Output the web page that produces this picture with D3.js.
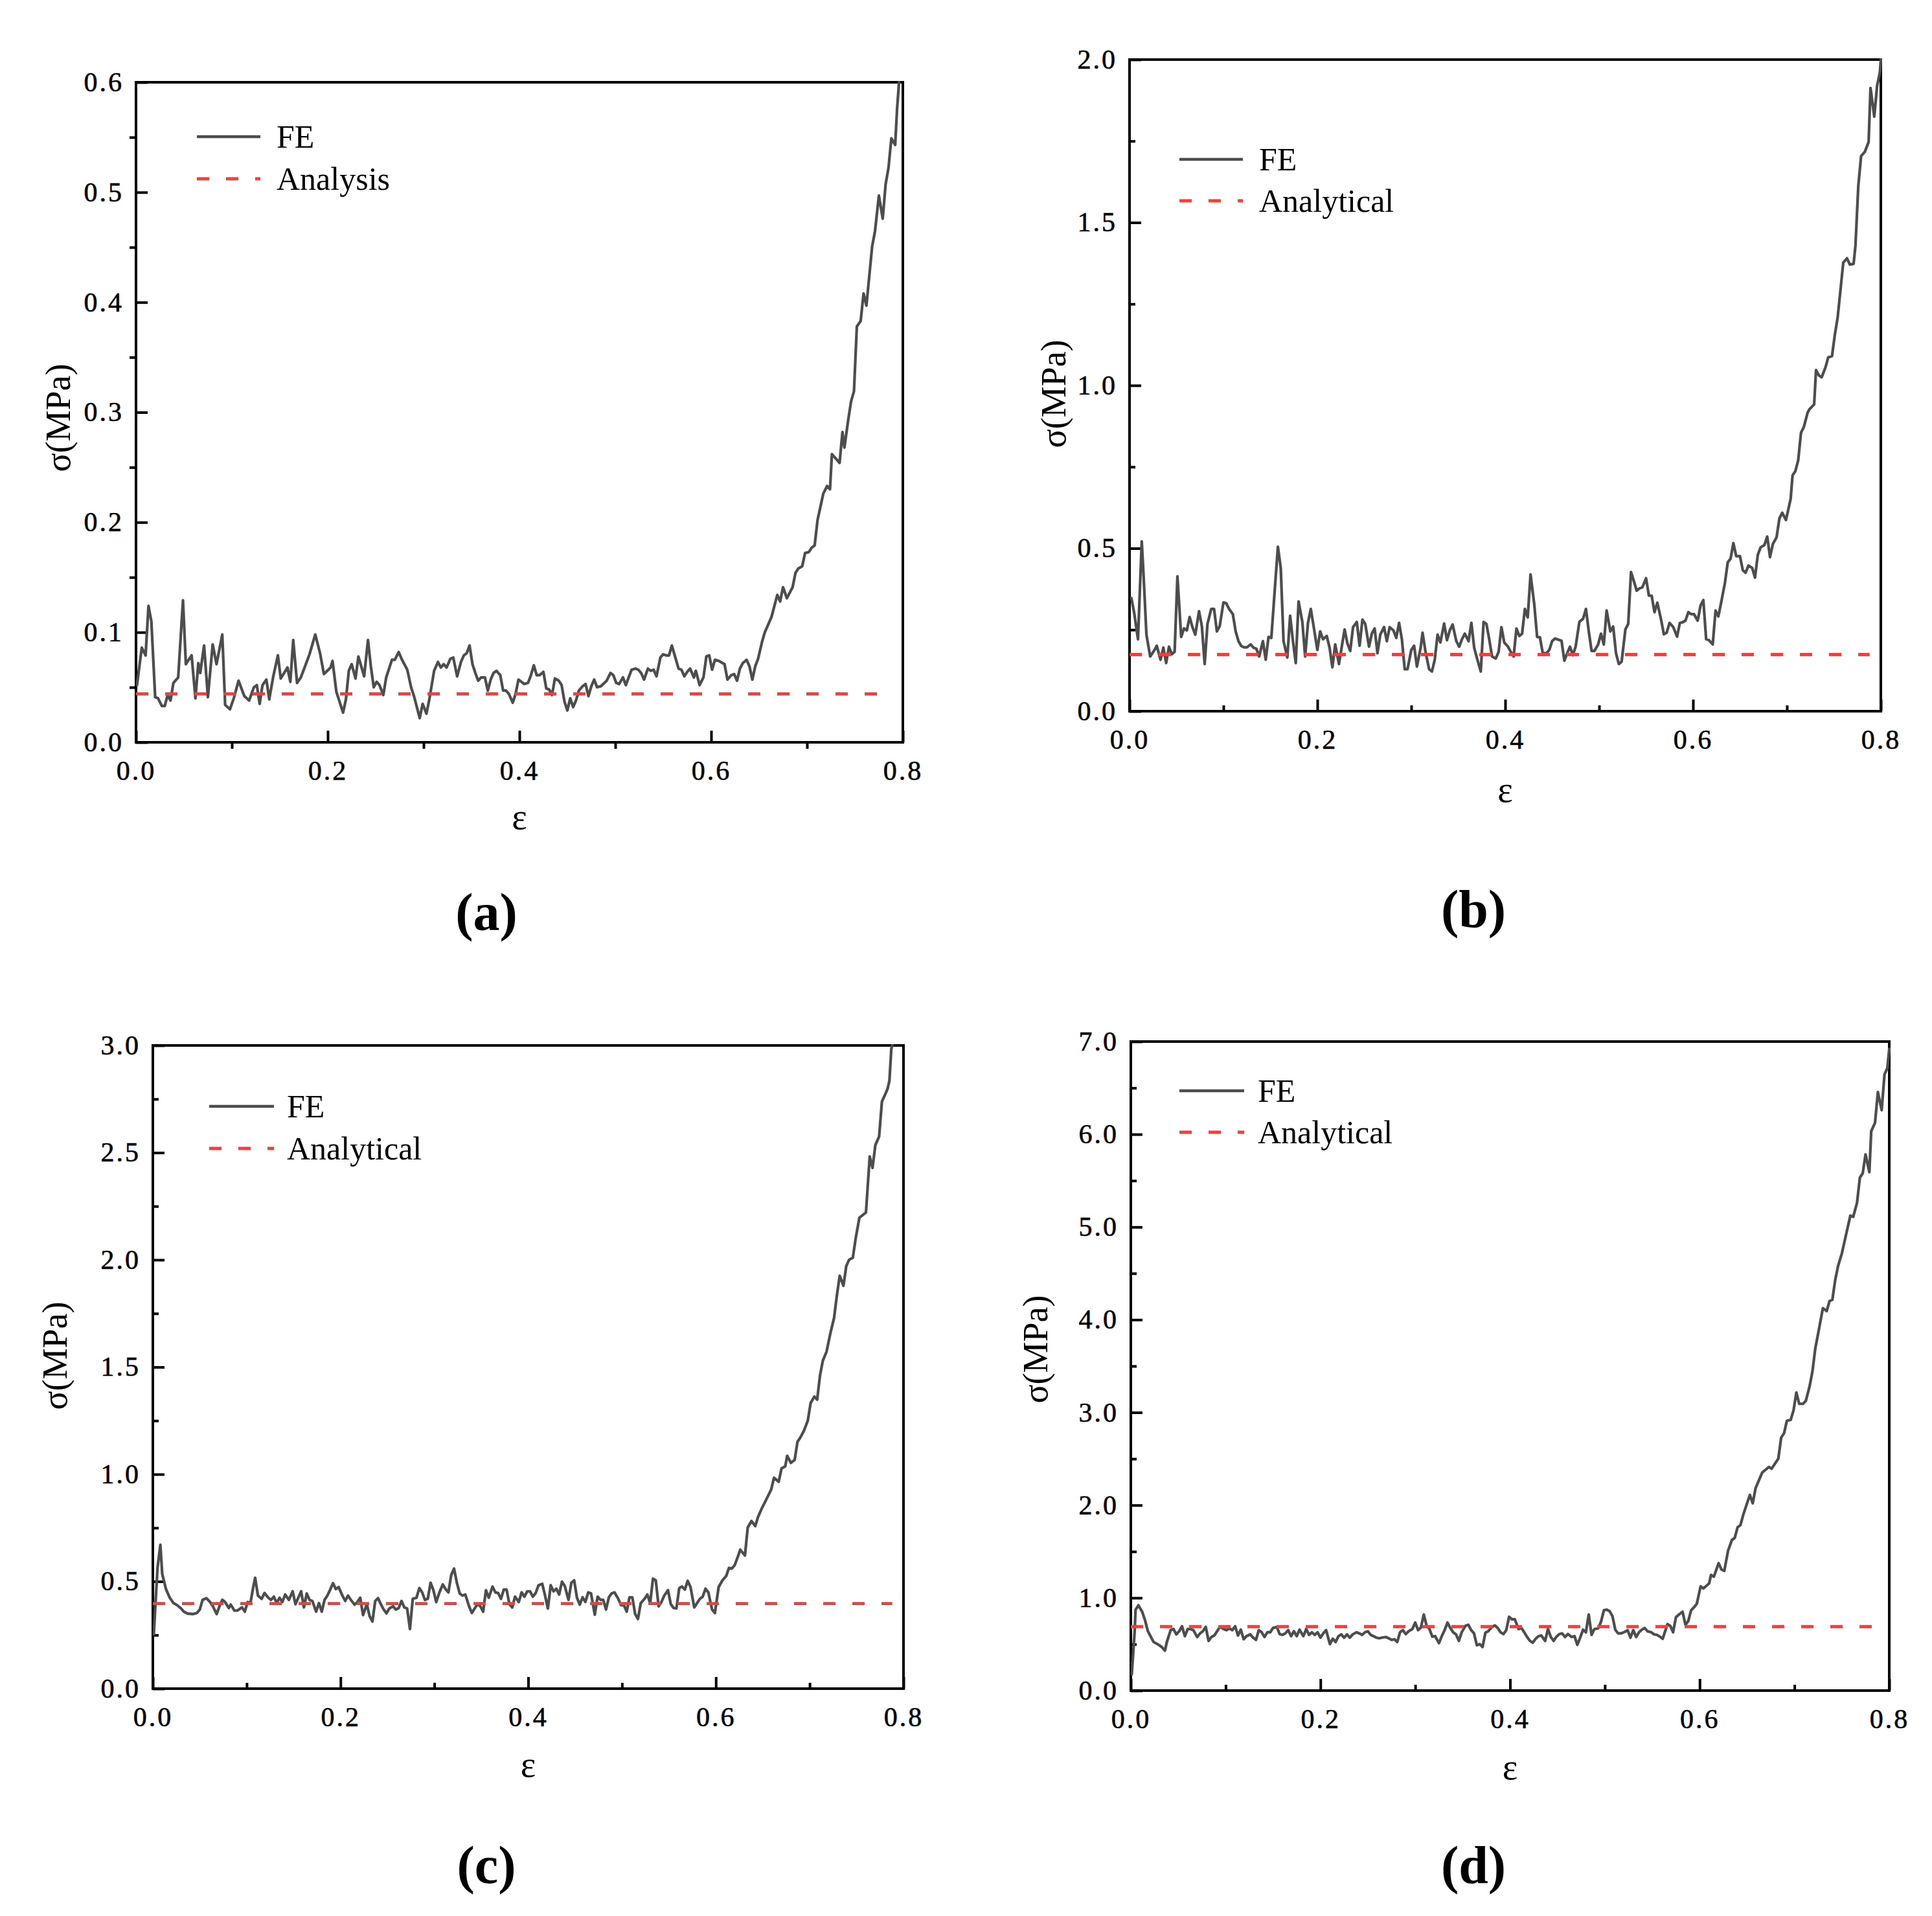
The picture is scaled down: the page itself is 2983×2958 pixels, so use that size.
<!DOCTYPE html>
<html><head><meta charset="utf-8">
<script src="https://cdn.jsdelivr.net/npm/d3@7/dist/d3.min.js"></script>
<style>html,body{margin:0;padding:0;background:#fff;} svg{display:block;}</style>
</head><body>
<svg id="chart" width="2983" height="2958"></svg>
<script>
// ---------------- DATA ----------------
const xMax = 0.8;
const xMajorTicks = [0, 0.2, 0.4, 0.6, 0.8];
const xMinorTicks = [0.1, 0.3, 0.5, 0.7];

const yMaxA = 0.6, yMaxB = 2.0, yMaxC = 3.0, yMaxD = 7.0;
const yMajorA = [0, 0.1, 0.2, 0.3, 0.4, 0.5, 0.6];
const yMinorA = [0.05, 0.15, 0.25, 0.35, 0.45, 0.55];
const yMajorB = [0, 0.5, 1.0, 1.5, 2.0];
const yMinorB = [0.25, 0.75, 1.25, 1.75];
const yMajorC = [0, 0.5, 1.0, 1.5, 2.0, 2.5, 3.0];
const yMinorC = [0.25, 0.75, 1.25, 1.75, 2.25, 2.75];
const yMajorD = [0, 1, 2, 3, 4, 5, 6, 7];
const yMinorD = [0.5, 1.5, 2.5, 3.5, 4.5, 5.5, 6.5];

// analytical plateau stress and extent
const analyticalA = 0.044, analyticalB = 0.174, analyticalC = 0.397, analyticalD = 0.69;
const analyticalEnd = 0.788;

const legendA = ["FE", "Analysis"];
const legendB = ["FE", "Analytical"];
const legendC = ["FE", "Analytical"];
const legendD = ["FE", "Analytical"];
const panelLabels = ["(a)", "(b)", "(c)", "(d)"];
const xTitle = "ε";
const yTitle = "σ(MPa)";

// FE curves [strain, stress]
const feA = [[0.001,0.052],[0.006,0.086],[0.010,0.079],[0.013,0.124],[0.016,0.110],[0.020,0.041],[0.023,0.040],[0.027,0.033],[0.030,0.033],[0.033,0.043],[0.036,0.038],[0.039,0.054],[0.044,0.059],[0.049,0.129],[0.052,0.071],[0.058,0.079],[0.062,0.040],[0.065,0.072],[0.067,0.063],[0.071,0.088],[0.075,0.041],[0.080,0.089],[0.084,0.071],[0.090,0.098],[0.093,0.034],[0.098,0.030],[0.102,0.040],[0.107,0.056],[0.113,0.042],[0.118,0.038],[0.123,0.050],[0.126,0.052],[0.129,0.035],[0.132,0.052],[0.136,0.057],[0.139,0.039],[0.143,0.059],[0.148,0.079],[0.151,0.058],[0.158,0.068],[0.161,0.055],[0.164,0.093],[0.168,0.054],[0.172,0.059],[0.181,0.080],[0.187,0.098],[0.192,0.081],[0.196,0.062],[0.203,0.068],[0.205,0.074],[0.209,0.046],[0.216,0.027],[0.219,0.039],[0.222,0.065],[0.225,0.071],[0.229,0.058],[0.232,0.078],[0.238,0.060],[0.242,0.093],[0.245,0.069],[0.248,0.050],[0.251,0.055],[0.254,0.052],[0.258,0.043],[0.261,0.059],[0.267,0.075],[0.270,0.075],[0.274,0.082],[0.277,0.076],[0.283,0.066],[0.287,0.050],[0.290,0.042],[0.296,0.022],[0.299,0.035],[0.303,0.026],[0.306,0.039],[0.311,0.065],[0.315,0.073],[0.318,0.068],[0.321,0.071],[0.324,0.068],[0.328,0.076],[0.331,0.077],[0.335,0.060],[0.339,0.073],[0.342,0.079],[0.345,0.081],[0.348,0.088],[0.351,0.071],[0.354,0.063],[0.357,0.056],[0.360,0.059],[0.364,0.059],[0.367,0.047],[0.370,0.057],[0.373,0.063],[0.376,0.065],[0.380,0.061],[0.383,0.047],[0.386,0.047],[0.389,0.044],[0.393,0.036],[0.396,0.044],[0.399,0.057],[0.405,0.053],[0.409,0.054],[0.412,0.061],[0.415,0.070],[0.418,0.061],[0.421,0.061],[0.425,0.064],[0.428,0.049],[0.431,0.048],[0.434,0.043],[0.437,0.058],[0.441,0.056],[0.444,0.052],[0.447,0.037],[0.450,0.029],[0.453,0.040],[0.456,0.032],[0.459,0.038],[0.462,0.047],[0.466,0.051],[0.469,0.053],[0.472,0.042],[0.475,0.051],[0.478,0.057],[0.481,0.050],[0.485,0.051],[0.491,0.056],[0.495,0.063],[0.498,0.061],[0.501,0.054],[0.504,0.053],[0.508,0.059],[0.511,0.052],[0.514,0.059],[0.517,0.066],[0.521,0.067],[0.524,0.066],[0.527,0.063],[0.530,0.057],[0.534,0.067],[0.537,0.065],[0.540,0.066],[0.543,0.060],[0.547,0.077],[0.550,0.080],[0.553,0.079],[0.556,0.079],[0.559,0.088],[0.563,0.076],[0.566,0.067],[0.569,0.066],[0.572,0.060],[0.575,0.064],[0.578,0.067],[0.582,0.059],[0.584,0.065],[0.588,0.052],[0.592,0.059],[0.595,0.078],[0.598,0.079],[0.601,0.066],[0.604,0.075],[0.608,0.074],[0.614,0.071],[0.617,0.057],[0.621,0.061],[0.624,0.062],[0.627,0.056],[0.630,0.067],[0.633,0.072],[0.637,0.075],[0.640,0.069],[0.643,0.057],[0.646,0.069],[0.649,0.076],[0.653,0.091],[0.656,0.100],[0.663,0.114],[0.669,0.134],[0.672,0.128],[0.675,0.141],[0.679,0.131],[0.685,0.141],[0.688,0.154],[0.691,0.158],[0.695,0.160],[0.698,0.172],[0.702,0.173],[0.705,0.177],[0.708,0.179],[0.711,0.202],[0.714,0.214],[0.717,0.226],[0.721,0.233],[0.724,0.230],[0.726,0.262],[0.730,0.258],[0.734,0.254],[0.737,0.282],[0.739,0.268],[0.743,0.293],[0.746,0.310],[0.749,0.319],[0.752,0.378],[0.756,0.383],[0.759,0.408],[0.762,0.397],[0.765,0.424],[0.768,0.451],[0.771,0.465],[0.775,0.497],[0.779,0.476],[0.782,0.507],[0.785,0.522],[0.788,0.549],[0.792,0.543],[0.794,0.576],[0.796,0.600]];

const feB = [[0.002,0.347],[0.005,0.301],[0.009,0.221],[0.013,0.521],[0.015,0.414],[0.018,0.235],[0.022,0.168],[0.026,0.185],[0.029,0.201],[0.033,0.158],[0.036,0.195],[0.039,0.148],[0.042,0.198],[0.045,0.175],[0.048,0.182],[0.051,0.414],[0.055,0.228],[0.058,0.254],[0.061,0.248],[0.064,0.289],[0.067,0.258],[0.070,0.235],[0.074,0.307],[0.077,0.261],[0.080,0.145],[0.083,0.268],[0.087,0.314],[0.090,0.314],[0.093,0.245],[0.096,0.261],[0.100,0.334],[0.103,0.331],[0.106,0.314],[0.110,0.298],[0.113,0.245],[0.116,0.215],[0.119,0.200],[0.122,0.196],[0.125,0.196],[0.129,0.205],[0.132,0.195],[0.135,0.192],[0.138,0.168],[0.142,0.215],[0.145,0.158],[0.148,0.228],[0.151,0.225],[0.155,0.387],[0.158,0.505],[0.161,0.440],[0.164,0.215],[0.168,0.165],[0.171,0.293],[0.174,0.215],[0.177,0.148],[0.180,0.337],[0.184,0.274],[0.187,0.168],[0.190,0.271],[0.193,0.314],[0.196,0.261],[0.200,0.188],[0.203,0.245],[0.206,0.221],[0.210,0.231],[0.213,0.195],[0.216,0.135],[0.219,0.205],[0.223,0.145],[0.226,0.198],[0.229,0.251],[0.232,0.208],[0.235,0.185],[0.238,0.258],[0.242,0.274],[0.245,0.201],[0.248,0.281],[0.251,0.268],[0.255,0.198],[0.258,0.238],[0.261,0.254],[0.264,0.178],[0.267,0.235],[0.271,0.258],[0.274,0.215],[0.277,0.258],[0.281,0.248],[0.284,0.225],[0.287,0.271],[0.290,0.221],[0.293,0.129],[0.296,0.129],[0.300,0.188],[0.303,0.201],[0.306,0.137],[0.310,0.195],[0.312,0.241],[0.315,0.185],[0.319,0.129],[0.322,0.122],[0.325,0.158],[0.328,0.235],[0.331,0.211],[0.335,0.269],[0.338,0.218],[0.341,0.248],[0.344,0.266],[0.348,0.215],[0.351,0.198],[0.354,0.221],[0.357,0.238],[0.361,0.215],[0.364,0.271],[0.367,0.195],[0.370,0.162],[0.374,0.122],[0.377,0.274],[0.380,0.268],[0.383,0.221],[0.386,0.168],[0.390,0.162],[0.393,0.182],[0.396,0.258],[0.399,0.211],[0.403,0.198],[0.406,0.182],[0.409,0.168],[0.412,0.254],[0.415,0.231],[0.418,0.238],[0.421,0.314],[0.424,0.288],[0.427,0.420],[0.431,0.327],[0.434,0.228],[0.437,0.227],[0.440,0.178],[0.444,0.178],[0.447,0.188],[0.450,0.215],[0.453,0.223],[0.456,0.220],[0.460,0.216],[0.463,0.155],[0.466,0.178],[0.469,0.198],[0.472,0.172],[0.475,0.198],[0.479,0.274],[0.483,0.284],[0.486,0.314],[0.489,0.245],[0.492,0.185],[0.495,0.185],[0.499,0.205],[0.502,0.238],[0.505,0.205],[0.508,0.309],[0.512,0.245],[0.515,0.260],[0.518,0.178],[0.521,0.145],[0.524,0.152],[0.528,0.251],[0.531,0.268],[0.534,0.427],[0.537,0.400],[0.540,0.370],[0.543,0.377],[0.546,0.380],[0.550,0.408],[0.553,0.355],[0.556,0.354],[0.559,0.304],[0.562,0.333],[0.566,0.281],[0.569,0.236],[0.572,0.241],[0.575,0.271],[0.579,0.258],[0.583,0.229],[0.586,0.271],[0.589,0.273],[0.592,0.278],[0.595,0.304],[0.598,0.298],[0.601,0.298],[0.605,0.278],[0.608,0.324],[0.611,0.341],[0.614,0.221],[0.617,0.218],[0.621,0.205],[0.624,0.309],[0.627,0.291],[0.630,0.334],[0.634,0.394],[0.637,0.457],[0.640,0.468],[0.643,0.516],[0.646,0.476],[0.650,0.476],[0.653,0.433],[0.656,0.425],[0.659,0.447],[0.663,0.440],[0.666,0.410],[0.669,0.480],[0.672,0.503],[0.676,0.510],[0.679,0.536],[0.682,0.473],[0.685,0.513],[0.689,0.534],[0.692,0.592],[0.695,0.609],[0.699,0.587],[0.704,0.652],[0.706,0.724],[0.709,0.737],[0.712,0.770],[0.715,0.855],[0.718,0.872],[0.722,0.916],[0.724,0.927],[0.729,0.942],[0.731,1.047],[0.734,1.031],[0.737,1.025],[0.741,1.055],[0.744,1.086],[0.748,1.090],[0.751,1.155],[0.754,1.208],[0.757,1.292],[0.760,1.377],[0.764,1.390],[0.767,1.371],[0.771,1.373],[0.773,1.430],[0.776,1.612],[0.779,1.704],[0.783,1.717],[0.787,1.747],[0.789,1.913],[0.793,1.825],[0.796,1.919],[0.799,1.961],[0.800,2.000]];

const feC = [[0.001,0.253],[0.005,0.565],[0.008,0.671],[0.010,0.535],[0.014,0.464],[0.018,0.424],[0.022,0.399],[0.026,0.389],[0.030,0.374],[0.033,0.359],[0.037,0.350],[0.043,0.348],[0.047,0.353],[0.050,0.369],[0.053,0.414],[0.057,0.422],[0.061,0.404],[0.064,0.384],[0.068,0.348],[0.071,0.384],[0.074,0.414],[0.077,0.404],[0.081,0.376],[0.083,0.392],[0.087,0.364],[0.090,0.364],[0.095,0.379],[0.098,0.359],[0.101,0.404],[0.104,0.399],[0.107,0.474],[0.109,0.517],[0.112,0.434],[0.116,0.419],[0.119,0.446],[0.123,0.424],[0.126,0.414],[0.129,0.429],[0.132,0.399],[0.135,0.424],[0.138,0.404],[0.141,0.439],[0.145,0.414],[0.149,0.454],[0.152,0.394],[0.155,0.424],[0.158,0.454],[0.161,0.379],[0.164,0.444],[0.167,0.414],[0.170,0.409],[0.174,0.359],[0.177,0.399],[0.180,0.359],[0.183,0.414],[0.186,0.434],[0.189,0.462],[0.192,0.492],[0.195,0.464],[0.198,0.474],[0.202,0.434],[0.205,0.409],[0.208,0.434],[0.211,0.414],[0.215,0.392],[0.218,0.404],[0.221,0.424],[0.224,0.343],[0.228,0.394],[0.231,0.338],[0.234,0.313],[0.237,0.409],[0.240,0.422],[0.243,0.394],[0.246,0.369],[0.249,0.351],[0.252,0.374],[0.256,0.384],[0.259,0.369],[0.262,0.376],[0.265,0.409],[0.268,0.379],[0.271,0.374],[0.274,0.278],[0.277,0.419],[0.281,0.424],[0.284,0.469],[0.287,0.449],[0.290,0.414],[0.293,0.419],[0.296,0.494],[0.299,0.459],[0.302,0.404],[0.305,0.444],[0.309,0.486],[0.312,0.464],[0.315,0.449],[0.318,0.530],[0.321,0.560],[0.324,0.494],[0.327,0.444],[0.330,0.434],[0.333,0.439],[0.337,0.384],[0.340,0.353],[0.343,0.374],[0.346,0.394],[0.349,0.384],[0.352,0.359],[0.355,0.459],[0.358,0.424],[0.362,0.476],[0.365,0.449],[0.368,0.446],[0.371,0.419],[0.374,0.462],[0.377,0.462],[0.380,0.394],[0.383,0.379],[0.386,0.429],[0.390,0.404],[0.393,0.449],[0.396,0.429],[0.399,0.454],[0.402,0.454],[0.405,0.429],[0.408,0.446],[0.411,0.482],[0.415,0.489],[0.418,0.434],[0.421,0.374],[0.424,0.482],[0.427,0.454],[0.430,0.466],[0.433,0.439],[0.436,0.499],[0.439,0.479],[0.443,0.414],[0.446,0.494],[0.449,0.505],[0.452,0.424],[0.455,0.392],[0.458,0.426],[0.461,0.404],[0.464,0.449],[0.467,0.444],[0.471,0.345],[0.474,0.429],[0.477,0.414],[0.480,0.414],[0.483,0.369],[0.486,0.426],[0.489,0.444],[0.492,0.449],[0.496,0.419],[0.499,0.389],[0.502,0.389],[0.505,0.359],[0.508,0.426],[0.511,0.426],[0.514,0.348],[0.517,0.325],[0.520,0.399],[0.524,0.419],[0.527,0.439],[0.530,0.399],[0.533,0.513],[0.536,0.505],[0.539,0.384],[0.542,0.404],[0.545,0.434],[0.549,0.459],[0.552,0.394],[0.555,0.376],[0.558,0.374],[0.561,0.469],[0.564,0.476],[0.567,0.462],[0.570,0.503],[0.573,0.474],[0.577,0.379],[0.580,0.399],[0.583,0.419],[0.586,0.429],[0.589,0.466],[0.592,0.449],[0.596,0.369],[0.599,0.353],[0.603,0.474],[0.607,0.505],[0.611,0.525],[0.614,0.563],[0.617,0.560],[0.620,0.575],[0.623,0.610],[0.626,0.648],[0.631,0.621],[0.634,0.752],[0.638,0.782],[0.642,0.758],[0.645,0.801],[0.649,0.841],[0.654,0.884],[0.659,0.929],[0.662,0.984],[0.667,0.965],[0.670,1.027],[0.674,1.037],[0.676,1.086],[0.680,1.053],[0.684,1.067],[0.687,1.151],[0.690,1.171],[0.694,1.204],[0.698,1.250],[0.701,1.332],[0.705,1.362],[0.708,1.348],[0.711,1.460],[0.714,1.529],[0.718,1.572],[0.722,1.656],[0.726,1.729],[0.729,1.834],[0.732,1.926],[0.736,1.879],[0.739,1.971],[0.742,2.000],[0.746,2.010],[0.749,2.099],[0.753,2.197],[0.760,2.221],[0.764,2.482],[0.767,2.429],[0.770,2.535],[0.774,2.575],[0.777,2.738],[0.780,2.767],[0.783,2.797],[0.785,2.836],[0.787,2.983],[0.788,3.000]];

const feD = [[0.001,0.175],[0.004,0.629],[0.005,0.873],[0.008,0.920],[0.012,0.850],[0.015,0.757],[0.018,0.640],[0.021,0.582],[0.024,0.524],[0.027,0.508],[0.030,0.489],[0.033,0.466],[0.036,0.431],[0.038,0.524],[0.042,0.652],[0.045,0.664],[0.048,0.606],[0.051,0.640],[0.054,0.694],[0.057,0.587],[0.060,0.664],[0.063,0.664],[0.066,0.652],[0.070,0.578],[0.073,0.617],[0.076,0.640],[0.079,0.687],[0.082,0.536],[0.085,0.578],[0.088,0.594],[0.091,0.640],[0.094,0.687],[0.098,0.664],[0.101,0.652],[0.104,0.671],[0.107,0.652],[0.110,0.694],[0.113,0.594],[0.116,0.657],[0.119,0.554],[0.122,0.587],[0.126,0.606],[0.129,0.571],[0.132,0.547],[0.135,0.652],[0.138,0.629],[0.141,0.578],[0.144,0.629],[0.147,0.629],[0.150,0.675],[0.154,0.687],[0.157,0.610],[0.160,0.601],[0.163,0.617],[0.166,0.652],[0.169,0.587],[0.172,0.640],[0.175,0.587],[0.178,0.657],[0.182,0.587],[0.185,0.664],[0.188,0.601],[0.191,0.629],[0.194,0.601],[0.197,0.629],[0.200,0.571],[0.203,0.617],[0.206,0.652],[0.210,0.501],[0.213,0.559],[0.216,0.524],[0.219,0.587],[0.222,0.606],[0.225,0.571],[0.228,0.606],[0.231,0.571],[0.234,0.606],[0.238,0.629],[0.241,0.617],[0.244,0.601],[0.247,0.629],[0.250,0.640],[0.253,0.601],[0.256,0.587],[0.259,0.571],[0.262,0.564],[0.265,0.571],[0.269,0.578],[0.272,0.564],[0.275,0.547],[0.278,0.554],[0.281,0.524],[0.284,0.629],[0.287,0.652],[0.290,0.610],[0.293,0.640],[0.297,0.664],[0.300,0.734],[0.303,0.652],[0.306,0.680],[0.309,0.820],[0.312,0.699],[0.315,0.664],[0.318,0.582],[0.321,0.587],[0.325,0.512],[0.328,0.587],[0.331,0.652],[0.334,0.734],[0.337,0.675],[0.340,0.629],[0.343,0.606],[0.346,0.536],[0.349,0.629],[0.353,0.699],[0.356,0.710],[0.359,0.652],[0.362,0.617],[0.365,0.489],[0.368,0.501],[0.371,0.470],[0.374,0.624],[0.377,0.640],[0.381,0.687],[0.384,0.703],[0.387,0.675],[0.390,0.629],[0.393,0.610],[0.396,0.652],[0.399,0.796],[0.402,0.769],[0.405,0.769],[0.409,0.664],[0.412,0.675],[0.415,0.629],[0.418,0.578],[0.421,0.536],[0.424,0.517],[0.427,0.559],[0.430,0.587],[0.433,0.594],[0.437,0.536],[0.440,0.664],[0.443,0.578],[0.446,0.536],[0.449,0.582],[0.452,0.610],[0.455,0.617],[0.458,0.578],[0.461,0.610],[0.465,0.578],[0.468,0.587],[0.471,0.494],[0.474,0.571],[0.477,0.657],[0.480,0.629],[0.483,0.820],[0.486,0.601],[0.489,0.664],[0.493,0.671],[0.496,0.745],[0.499,0.866],[0.502,0.873],[0.505,0.857],[0.508,0.803],[0.511,0.657],[0.514,0.617],[0.517,0.617],[0.521,0.633],[0.524,0.652],[0.527,0.571],[0.530,0.652],[0.533,0.578],[0.536,0.629],[0.539,0.657],[0.542,0.675],[0.545,0.640],[0.549,0.629],[0.552,0.606],[0.555,0.601],[0.558,0.582],[0.561,0.559],[0.564,0.652],[0.566,0.717],[0.569,0.699],[0.572,0.629],[0.575,0.792],[0.579,0.827],[0.582,0.850],[0.585,0.710],[0.588,0.750],[0.591,0.866],[0.594,0.897],[0.597,0.936],[0.601,1.124],[0.604,1.102],[0.610,1.156],[0.612,1.247],[0.615,1.229],[0.620,1.374],[0.623,1.306],[0.626,1.292],[0.630,1.510],[0.634,1.624],[0.637,1.647],[0.640,1.761],[0.643,1.784],[0.646,1.897],[0.653,2.111],[0.656,2.020],[0.659,2.183],[0.666,2.352],[0.673,2.411],[0.676,2.393],[0.680,2.456],[0.683,2.502],[0.686,2.729],[0.689,2.774],[0.692,2.910],[0.696,2.920],[0.699,3.020],[0.702,3.215],[0.705,3.093],[0.709,3.093],[0.712,3.124],[0.716,3.283],[0.719,3.443],[0.722,3.692],[0.725,3.851],[0.730,4.125],[0.734,4.093],[0.737,4.201],[0.740,4.215],[0.743,4.429],[0.746,4.579],[0.750,4.715],[0.752,4.806],[0.759,5.124],[0.762,5.110],[0.766,5.261],[0.769,5.533],[0.772,5.578],[0.775,5.783],[0.779,5.592],[0.781,6.033],[0.785,6.124],[0.788,6.456],[0.792,6.260],[0.795,6.647],[0.798,6.715],[0.800,6.920]];

// ---------------- LAYOUT / STYLE ----------------
const FONT = "'Liberation Serif','Times New Roman',Times,serif";
const GRAY = "#4d4d4d";
const RED = "#ef4040";

const panels = [
  { fe: feA, yMax: yMaxA, yMajor: yMajorA, yMinor: yMinorA, analytical: analyticalA, legend: legendA, label: panelLabels[0],
    box: {left: 210, right: 1394, top: 127, bottom: 1146}, minorOut: true,
    leg: {x1: 304, x2: 402, y1: 211, y2: 276, tx: 427},
    yT: {x: 108, y: 645}, xTy: 1280, lab: {x: 751, y: 1436} },
  { fe: feB, yMax: yMaxB, yMajor: yMajorB, yMinor: yMinorB, analytical: analyticalB, legend: legendB, label: panelLabels[1],
    box: {left: 1744, right: 2904, top: 92, bottom: 1098}, minorOut: false,
    leg: {x1: 1821, x2: 1919, y1: 246, y2: 310, tx: 1944},
    yT: {x: 1645, y: 608}, xTy: 1238, lab: {x: 2275, y: 1431} },
  { fe: feC, yMax: yMaxC, yMajor: yMajorC, yMinor: yMinorC, analytical: analyticalC, legend: legendC, label: panelLabels[2],
    box: {left: 236, right: 1395, top: 1614, bottom: 2607}, minorOut: false,
    leg: {x1: 323, x2: 423, y1: 1708, y2: 1773, tx: 443},
    yT: {x: 103, y: 2093}, xTy: 2743, lab: {x: 751, y: 2907} },
  { fe: feD, yMax: yMaxD, yMajor: yMajorD, yMinor: yMinorD, analytical: analyticalD, legend: legendD, label: panelLabels[3],
    box: {left: 1746, right: 2917, top: 1608, bottom: 2610}, minorOut: false,
    leg: {x1: 1821, x2: 1921, y1: 1684, y2: 1748, tx: 1942},
    yT: {x: 1617, y: 2083}, xTy: 2747, lab: {x: 2275, y: 2907} }
];

const svg = d3.select("#chart");
svg.append("rect").attr("width", 2983).attr("height", 2958).attr("fill", "#fff");
const fmt = d3.format(".1f");

function styleAxis(sel, withText) {
  sel.select(".domain").remove();
  sel.attr("font-family", FONT).attr("font-size", 42);
  sel.selectAll(".tick line").attr("stroke", "#000").attr("stroke-width", 4);
  if (withText) {
    sel.selectAll(".tick text").attr("fill", "#000").attr("letter-spacing", 3)
      .attr("stroke", "#000").attr("stroke-width", 0.6);
  } else {
    sel.selectAll(".tick text").remove();
  }
}

panels.forEach(p => {
  const b = p.box;
  const x = d3.scaleLinear().domain([0, xMax]).range([b.left, b.right]);
  const y = d3.scaleLinear().domain([0, p.yMax]).range([b.bottom, b.top]);
  const g = svg.append("g");

  const minorSize = p.minorOut ? 10 : -9;

  // axes: major ticks (inward, labelled)
  g.append("g").attr("transform", `translate(0,${b.bottom})`)
    .call(d3.axisBottom(x).tickValues(xMajorTicks).tickSize(-18).tickPadding(28).tickFormat(fmt))
    .call(s => styleAxis(s, true));
  g.append("g").attr("transform", `translate(0,${b.bottom})`)
    .call(d3.axisBottom(x).tickValues(xMinorTicks).tickSize(minorSize).tickFormat(() => ""))
    .call(s => styleAxis(s, false));
  g.append("g").attr("transform", `translate(${b.left},0)`)
    .call(d3.axisLeft(y).tickValues(p.yMajor).tickSize(-18).tickPadding(19).tickFormat(fmt))
    .call(s => styleAxis(s, true));
  g.append("g").attr("transform", `translate(${b.left},0)`)
    .call(d3.axisLeft(y).tickValues(p.yMinor).tickSize(minorSize).tickFormat(() => ""))
    .call(s => styleAxis(s, false));

  // frame
  g.append("rect").attr("x", b.left).attr("y", b.top)
    .attr("width", b.right - b.left).attr("height", b.bottom - b.top)
    .attr("fill", "none").attr("stroke", "#000").attr("stroke-width", 4);

  const line = d3.line().x(d => x(d[0])).y(d => y(d[1]));

  // FE curve
  g.append("path").datum(p.fe).attr("d", line)
    .attr("fill", "none").attr("stroke", GRAY).attr("stroke-width", 4.2)
    .attr("stroke-linejoin", "round").attr("stroke-linecap", "round");

  // analytical
  g.append("path").datum([[0, p.analytical], [analyticalEnd, p.analytical]]).attr("d", line)
    .attr("fill", "none").attr("stroke", RED).attr("stroke-width", 4.8)
    .attr("stroke-dasharray", "19,26");

  // legend
  const L = p.leg;
  g.append("line").attr("x1", L.x1).attr("x2", L.x2).attr("y1", L.y1).attr("y2", L.y1)
    .attr("stroke", GRAY).attr("stroke-width", 4.5);
  g.append("line").attr("x1", L.x1).attr("x2", L.x2).attr("y1", L.y2).attr("y2", L.y2)
    .attr("stroke", RED).attr("stroke-width", 4.8).attr("stroke-dasharray", "19,26");
  g.append("text").attr("x", L.tx).attr("y", L.y1 + 17).text(p.legend[0])
    .attr("font-family", FONT).attr("font-size", 50).attr("fill", "#000");
  g.append("text").attr("x", L.tx).attr("y", L.y2 + 17).text(p.legend[1])
    .attr("font-family", FONT).attr("font-size", 50).attr("fill", "#000");

  // axis titles
  g.append("text").attr("x", (b.left + b.right) / 2).attr("y", p.xTy)
    .attr("text-anchor", "middle").attr("font-family", FONT).attr("font-size", 56)
    .attr("fill", "#000").text(xTitle);
  g.append("text").attr("transform", `translate(${p.yT.x},${p.yT.y}) rotate(-90)`)
    .attr("text-anchor", "middle").attr("font-family", FONT).attr("font-size", 54)
    .attr("fill", "#000").text(yTitle);

  // panel label
  g.append("text").attr("x", p.lab.x).attr("y", p.lab.y)
    .attr("text-anchor", "middle").attr("font-family", FONT).attr("font-size", 82)
    .attr("font-weight", "bold").attr("fill", "#000").text(p.label);
});
</script>
</body></html>
